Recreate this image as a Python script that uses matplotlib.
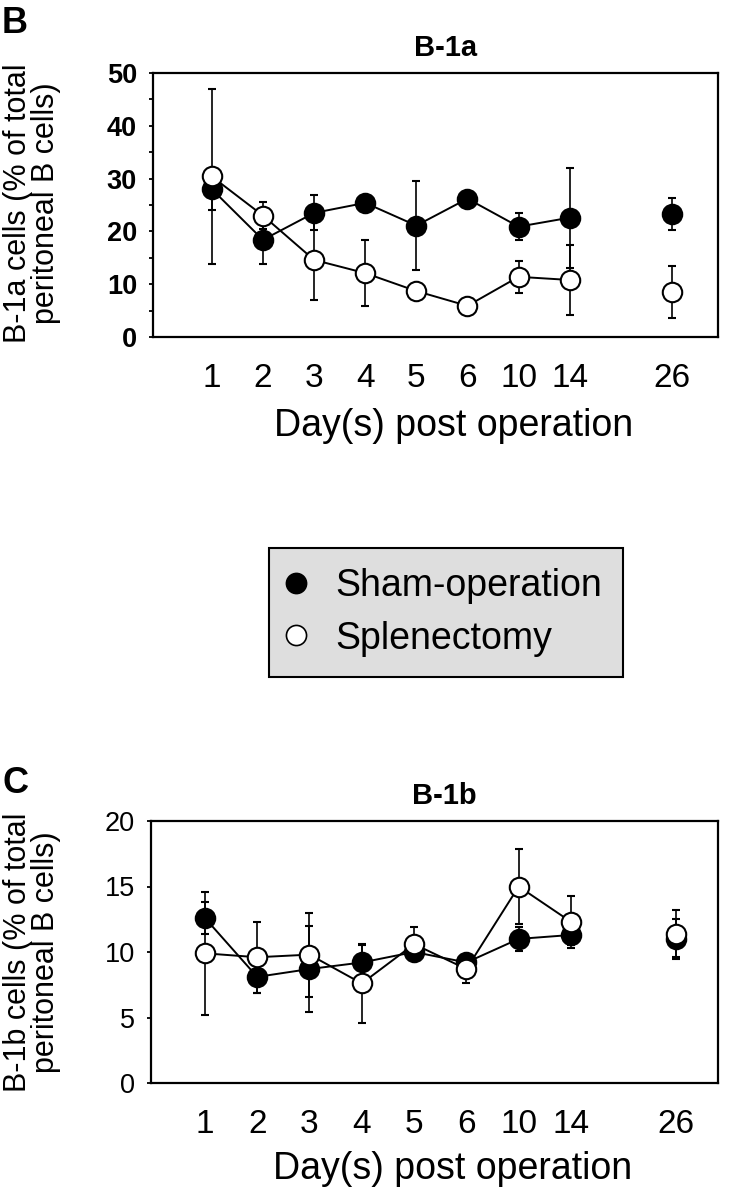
import numpy as np
import matplotlib
matplotlib.use('Agg')
import matplotlib.pyplot as plt
from matplotlib.lines import Line2D
from matplotlib.ticker import MultipleLocator

plt.rcParams['font.family'] = ['Liberation Sans', 'DejaVu Sans']

#------------------------------------DATA----------------------------------------#

days = ['1', '2', '3', '4', '5', '6', '10', '14', '26']

# B-1a panel (% of total peritoneal B cells)
sham_a = [28.0, 18.4, 23.5, 25.4, 21.1, 26.2, 20.9, 22.6, 23.3]
sham_a_err = [4.0, 4.5, 3.3, 1.0, 8.5, 1.0, 2.6, 9.5, 3.1]
spl_a = [30.4, 23.0, 14.6, 12.1, 8.7, 5.9, 11.4, 10.8, 8.5]
spl_a_err = [16.5, 2.5, 7.6, 6.2, 1.0, 0.8, 3.0, 6.6, 4.9]

# B-1b panel
sham_b = [12.6, 8.1, 8.7, 9.2, 10.0, 9.2, 11.0, 11.3, 11.0]
sham_b_err = [1.2, 1.2, 3.3, 1.3, 0.7, 0.4, 0.9, 0.8, 1.5]
spl_b = [9.9, 9.6, 9.8, 7.6, 10.6, 8.7, 15.0, 12.3, 11.4]
spl_b_err = [4.7, 2.7, 3.2, 3.0, 1.3, 1.1, 2.9, 2.0, 1.8]

#------------------------------------PLOTTING----------------------------------------#

W, H = 731, 1199
fig = plt.figure(figsize=(W / 100, H / 100), dpi=100)

# x positions: consecutive days, extra gap before day 26
x = np.arange(len(days), dtype=float)
x[-1] += 1
n_line = 8  # days 1..14 are joined by lines


def px_axes(left, right, top, bottom):
    return fig.add_axes([left / W, 1 - bottom / H, (right - left) / W, (bottom - top) / H])


def draw_series(ax, y, err, filled, z):
    face = 'black' if filled else 'white'
    ax.plot(x[:n_line], y[:n_line], color='black', lw=1.4, zorder=z)
    ax.errorbar(x, y, yerr=err, fmt='o', ms=14, mfc=face, mec='black', mew=1.5,
                ecolor='black', elinewidth=1.2, capsize=3, capthick=1.5, zorder=z + 0.5)


def style_axes(ax, title, ylim, major, minor, bold_ticks, xlim, label_y):
    ax.set_xlim(*xlim)
    ax.set_ylim(*ylim)
    ax.set_xticks(x)
    ax.set_xticklabels(days)
    ax.yaxis.set_major_locator(MultipleLocator(major))
    if minor:
        ax.yaxis.set_minor_locator(MultipleLocator(minor))
    ax.tick_params(axis='x', length=0, pad=19, labelsize=24)
    ax.tick_params(axis='y', which='both', direction='out', length=3, width=1.3, pad=8.5,
                   labelsize=19.5)
    if bold_ticks:
        for t in ax.get_yticklabels():
            t.set_fontweight('bold')
    for s in ax.spines.values():
        s.set_linewidth(1.6)
    ax.set_title(title, fontsize=21, fontweight='bold', x=0.517, pad=12)
    ax.set_xlabel('Day(s) post operation', fontsize=27)
    ax.xaxis.set_label_coords(0.532, label_y)
    ax.xaxis.label.set_va('top')


# panel B
ax1 = px_axes(153, 718, 73, 337)
draw_series(ax1, sham_a, sham_a_err, True, 2)
draw_series(ax1, spl_a, spl_a_err, False, 3)
style_axes(ax1, 'B-1a', (0, 50), 10, 5, True, (-1.15, 9.9), -0.268)

# panel C
ax2 = px_axes(151, 718, 821, 1083)
draw_series(ax2, sham_b, sham_b_err, True, 2)
draw_series(ax2, spl_b, spl_b_err, False, 3)
style_axes(ax2, 'B-1b', (0, 20), 5, None, False, (-1.03, 9.81), -0.258)

# y labels
for yc, txt in [(203, 'B-1a cells (% of total\nperitoneal B cells)'),
                (952, 'B-1b cells (% of total\nperitoneal B cells)')]:
    fig.text(32 / W, 1 - yc / H, txt, rotation=90, ha='center', va='center',
             fontsize=22, linespacing=0.88, multialignment='center')

# panel letters
fig.text(2 / W, 1 - 33 / H, 'B', fontsize=26, fontweight='bold', va='baseline')
fig.text(2 / W, 1 - 793 / H, 'C', fontsize=26, fontweight='bold', va='baseline')

# shared legend
handles = [Line2D([], [], ls='none', marker='o', ms=14.5, mfc='black', mec='black', mew=1.2),
           Line2D([], [], ls='none', marker='o', ms=14.5, mfc='white', mec='black', mew=1.2)]
leg = fig.legend(handles, ['Sham-operation', 'Splenectomy'], loc='center',
                 bbox_to_anchor=(446 / W, 1 - 612.5 / H), fontsize=27, frameon=True,
                 fancybox=False, facecolor='#dedede', edgecolor='black', framealpha=1,
                 handlelength=0.35, handletextpad=0.87, labelspacing=0.43, borderpad=0.55,
                 borderaxespad=0)
leg.get_frame().set_linewidth(1.5)

plt.savefig('out.png', dpi=100)
